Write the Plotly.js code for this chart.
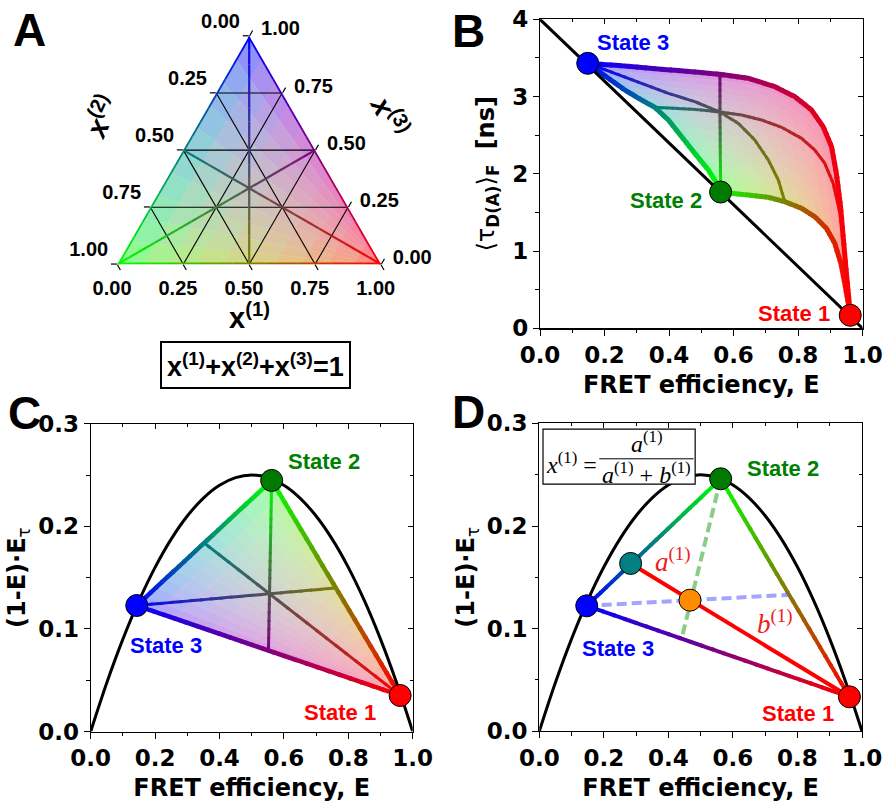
<!DOCTYPE html>
<html><head><meta charset="utf-8">
<script src="https://cdn.plot.ly/plotly-3.0.1.min.js"></script>
<style>html,body{margin:0;padding:0;background:#fff}</style>
</head><body>
<div id="chart" style="width:883px;height:809px"></div>
<script>
// ================= DATA =================
// Panel A: ternary tick values and their printed labels
const ternTicks    = [0, 0.25, 0.5, 0.75, 1];
const ternTickText = ['1.00', '0.75', '0.50', '0.25', '0.00'];
const ternGridVals = [0.25, 0.5, 0.75];

// Panel B: states (State 1, State 2, State 3)
const stateNames = ['State 1', 'State 2', 'State 3'];
const B_stateE = [0.962, 0.560, 0.148];
const B_stateT = [0.168, 1.764, 3.430];
// static FRET line
const B_staticE = [0, 1];
const B_staticT = [4, 0];
// dynamic lines (edges)
const B_edge31_E = [0.148, 0.263, 0.367, 0.470, 0.558, 0.646, 0.728, 0.790, 0.842, 0.878, 0.904, 0.919, 0.932, 0.941, 0.950, 0.958, 0.962];
const B_edge31_T = [3.430, 3.395, 3.357, 3.322, 3.288, 3.236, 3.128, 2.999, 2.826, 2.610, 2.351, 2.006, 1.574, 1.143, 0.712, 0.366, 0.168];
const B_edge32_E = [0.148, 0.212, 0.263, 0.315, 0.356, 0.398, 0.439, 0.480, 0.522, 0.548, 0.560];
const B_edge32_T = [3.430, 3.236, 3.085, 2.955, 2.860, 2.697, 2.481, 2.265, 2.049, 1.877, 1.764];
const B_edge21_E = [0.560, 0.594, 0.646, 0.708, 0.759, 0.811, 0.852, 0.888, 0.914, 0.933, 0.945, 0.956, 0.962];
const B_edge21_T = [1.764, 1.747, 1.725, 1.695, 1.639, 1.553, 1.445, 1.294, 1.100, 0.841, 0.582, 0.323, 0.168];
// interior lines through the centre
const B_medA_E = [0.356, 0.418, 0.491, 0.558, 0.625, 0.687, 0.749, 0.811, 0.852, 0.883, 0.909, 0.930, 0.943, 0.954, 0.962];
const B_medA_T = [2.860, 2.848, 2.830, 2.800, 2.761, 2.697, 2.602, 2.459, 2.308, 2.136, 1.877, 1.489, 1.057, 0.625, 0.168];
const B_medB_E = [0.148, 0.232, 0.315, 0.398, 0.480, 0.558, 0.615, 0.666, 0.708, 0.739, 0.759];
const B_medB_T = [3.430, 3.301, 3.171, 3.042, 2.934, 2.800, 2.653, 2.438, 2.179, 1.920, 1.639];
const B_medC_E = [0.560, 0.559, 0.558, 0.558];
const B_medC_T = [1.764, 2.308, 2.800, 3.288];

// Panel C: states
const C_stateE = [0.961, 0.562, 0.143];
const C_stateY = [0.0351, 0.2447, 0.1228];
// Panel D: states and extra points/lines
const D_stateE = [0.961, 0.562, 0.147];
const D_stateY = [0.0335, 0.2460, 0.1222];
const D_pointE = [0.283, 0.467];     // teal, orange
const D_pointY = [0.1635, 0.1277];
const D_dashGreenE = [0.562, 0.441];
const D_dashGreenY = [0.2460, 0.0901];
const D_dashBlueE = [0.147, 0.775];
const D_dashBlueY = [0.1222, 0.1330];
// static FRET line in (E, (1-E)E_tau) space
const parabolaE = [0, 0.05, 0.1, 0.15, 0.2, 0.25, 0.3, 0.35, 0.4, 0.45, 0.5, 0.55, 0.6, 0.65, 0.7, 0.75, 0.8, 0.85, 0.9, 0.95, 1.0];
const parabolaY = [0, 0.0475, 0.09, 0.1275, 0.16, 0.1875, 0.21, 0.2275, 0.24, 0.2475, 0.25, 0.2475, 0.24, 0.2275, 0.21, 0.1875, 0.16, 0.1275, 0.09, 0.0475, 0];

// ================= helpers =================
const W = 883, H = 809;
const px = v => v / W, py = v => 1 - v / H;
const COMP1 = [1,0,0], COMP2 = [0,1,0], COMP3 = [0,0,1];
const stateColors = ['#ff0000', '#007a00', '#0000ff'];
const labelColors = ['#ff0000', '#008000', '#0000ff'];
const mix = (c0, c1, t) => c0.map((v, i) => v + (c1[i] - v) * t);
const lerp2 = (p, q, t) => [p[0] + (q[0] - p[0]) * t, p[1] + (q[1] - p[1]) * t];
const rgb = c => `rgb(${c.map(v => Math.round(255 * Math.min(1, Math.max(0, v)))).join(',')})`;
const fillColor = (c, alpha) => `rgb(${c.map(v => Math.round(255 - alpha * (255 - 255 * Math.sqrt(Math.max(v, 0))))).join(',')})`;
const mid = (p, q) => [(p[0] + q[0]) / 2, (p[1] + q[1]) / 2];

const traces = [], shapes = [], annotations = [];

// gradient-coloured polyline as overlapping path shapes
function gradLine(xs, ys, c0, c1, width, xref, yref, byY, sub) {
  const p = byY ? ys : xs, p0 = p[0], p1 = p[p.length - 1];
  const P = [], tp = [];
  for (let i = 0; i < xs.length - 1; i++) {
    for (let k = 0; k < sub; k++) {
      const f = k / sub;
      P.push([xs[i] + f * (xs[i + 1] - xs[i]), ys[i] + f * (ys[i + 1] - ys[i])]);
      tp.push((p[i] + f * (p[i + 1] - p[i]) - p0) / (p1 - p0));
    }
  }
  P.push([xs[xs.length - 1], ys[ys.length - 1]]); tp.push(1);
  for (let j = 0; j < P.length; j++) {
    const a = j === 0 ? P[0] : lerp2(P[j], P[j - 1], 0.62);
    const b = j === P.length - 1 ? P[j] : lerp2(P[j], P[j + 1], 0.62);
    shapes.push({type: 'path', xref, yref, layer: 'below',
      path: `M${a[0]},${a[1]} L${P[j][0]},${P[j][1]} L${b[0]},${b[1]}`,
      fillcolor: 'rgba(0,0,0,0)', line: {color: rgb(mix(c0, c1, tp[j])), width}});
  }
}
// sample polyline at normalized E position
function sampleE(E, T, t) {
  const target = E[0] + t * (E[E.length - 1] - E[0]);
  for (let i = 0; i < E.length - 1; i++) {
    const a = E[i], b = E[i + 1];
    if ((target - a) * (target - b) <= 1e-12) {
      const f = b === a ? 0 : (target - a) / (b - a);
      return [a + f * (b - a), T[i] + f * (T[i + 1] - T[i])];
    }
  }
  return [E[E.length - 1], T[T.length - 1]];
}
// shaded mixing region built from its three boundary lines
function patch(e32, e31, e21, S1, S2, S3, n, alpha, xref, yref) {
  const pt = (u, v) => {
    const C0 = sampleE(e32[0], e32[1], u), D0 = sampleE(e31[0], e31[1], v), D1 = sampleE(e21[0], e21[1], v);
    return [0, 1].map(k => (1 - v) * (C0[k] - (1 - u) * S3[k] - u * S2[k]) + (1 - u) * D0[k] + u * D1[k]);
  };
  for (let i = 0; i < n; i++) for (let j = 0; j < n; j++) {
    const u0 = i / n, u1 = (i + 1) / n, v0 = j / n, v1 = (j + 1) / n;
    const q = [pt(u0, v0), pt(u1, v0), pt(u1, v1), pt(u0, v1)];
    const um = (u0 + u1) / 2, vm = (v0 + v1) / 2;
    const col = fillColor([vm, (1 - vm) * um, (1 - vm) * (1 - um)], alpha);
    shapes.push({type: 'path', xref, yref, layer: 'below',
      path: `M${q[0][0]},${q[0][1]} L${q[1][0]},${q[1][1]} L${q[2][0]},${q[2][1]} L${q[3][0]},${q[3][1]} Z`,
      fillcolor: col, line: {color: col, width: 0.6}});
  }
}

// ================= Panel A (ternary) =================
// a = x(3) (top, blue), b = x(2) (bottom-left, green), c = x(1) (bottom-right, red)
const NA = 10;
for (let i = 0; i < NA; i++) for (let j = 0; j < NA; j++) {
  const u0 = i / NA, u1 = (i + 1) / NA, v0 = j / NA, v1 = (j + 1) / NA;
  const comps = [[u0, v0], [u1, v0], [u1, v1], [u0, v1]].map(([u, v]) => [v, (1 - v) * u, (1 - v) * (1 - u)]);
  const um = (u0 + u1) / 2, vm = (v0 + v1) / 2;
  const col = fillColor([vm, (1 - vm) * um, (1 - vm) * (1 - um)], 0.55);
  traces.push({type: 'scatterternary', subplot: 'ternary', a: comps.map(c => c[2]), b: comps.map(c => c[1]), c: comps.map(c => c[0]),
    mode: 'lines', fill: 'toself', fillcolor: col, line: {color: col, width: 0.6}, hoverinfo: 'skip', showlegend: false});
}
ternGridVals.forEach(k => {
  const segs = [
    {a: [k, k], b: [1 - k, 0], c: [0, 1 - k]},
    {a: [1 - k, 0], b: [k, k], c: [0, 1 - k]},
    {a: [1 - k, 0], b: [0, 1 - k], c: [k, k]}];
  segs.forEach(s => traces.push({type: 'scatterternary', subplot: 'ternary', a: s.a, b: s.b, c: s.c, mode: 'lines',
    line: {color: '#000', width: 1.1}, hoverinfo: 'skip', showlegend: false}));
});
function ternLine(p0, p1, width, n) {  // p = [x1, x2, x3]
  for (let k = 0; k < n; k++) {
    const q0 = mix(p0, p1, k / n), q1 = mix(p0, p1, (k + 1) / n), qm = mix(p0, p1, (k + 0.5) / n);
    traces.push({type: 'scatterternary', subplot: 'ternary', a: [q0[2], q1[2]], b: [q0[1], q1[1]], c: [q0[0], q1[0]],
      mode: 'lines', line: {color: rgb(qm), width}, hoverinfo: 'skip', showlegend: false});
  }
}
ternLine(COMP1, [0, .5, .5], 2.2, 16);
ternLine(COMP2, [.5, 0, .5], 2.2, 16);
ternLine(COMP3, [.5, .5, 0], 2.2, 16);
ternLine(COMP3, COMP2, 3.5, 16);
ternLine(COMP3, COMP1, 3.5, 16);
ternLine(COMP2, COMP1, 3.5, 16);

// ================= Panel B =================
const S1B = [B_stateE[0], B_stateT[0]], S2B = [B_stateE[1], B_stateT[1]], S3B = [B_stateE[2], B_stateT[2]];
patch([B_edge32_E, B_edge32_T], [B_edge31_E, B_edge31_T], [B_edge21_E, B_edge21_T], S1B, S2B, S3B, 16, 0.45, 'x', 'y');
gradLine(B_medA_E, B_medA_T, [0, .5, .5], COMP1, 3, 'x', 'y', false, 4);
gradLine(B_medB_E, B_medB_T, COMP3, [.5, .5, 0], 3, 'x', 'y', false, 4);
gradLine(B_medC_E, B_medC_T, COMP2, [.5, 0, .5], 3, 'x', 'y', true, 6);
gradLine(B_edge32_E, B_edge32_T, COMP3, COMP2, 5, 'x', 'y', false, 4);
gradLine(B_edge21_E, B_edge21_T, COMP2, COMP1, 5, 'x', 'y', false, 4);
gradLine(B_edge31_E, B_edge31_T, COMP3, COMP1, 5, 'x', 'y', false, 4);
traces.push({type: 'scatter', x: B_staticE, y: B_staticT, xaxis: 'x', yaxis: 'y', mode: 'lines',
  line: {color: '#000', width: 3}, hoverinfo: 'skip', showlegend: false});
traces.push({type: 'scatter', x: B_stateE, y: B_stateT, xaxis: 'x', yaxis: 'y', mode: 'markers', text: stateNames,
  marker: {size: 22, color: stateColors, line: {color: '#000', width: 1}}, hoverinfo: 'skip', showlegend: false, cliponaxis: false});

// ================= Panel C =================
const S1C = [C_stateE[0], C_stateY[0]], S2C = [C_stateE[1], C_stateY[1]], S3C = [C_stateE[2], C_stateY[2]];
patch([[S3C[0], S2C[0]], [S3C[1], S2C[1]]], [[S3C[0], S1C[0]], [S3C[1], S1C[1]]], [[S2C[0], S1C[0]], [S2C[1], S1C[1]]], S1C, S2C, S3C, 14, 0.42, 'x2', 'y2');
const m32C = mid(S3C, S2C), m31C = mid(S3C, S1C), m21C = mid(S2C, S1C);
gradLine([m32C[0], S1C[0]], [m32C[1], S1C[1]], [0, .5, .5], COMP1, 3, 'x2', 'y2', false, 20);
gradLine([S3C[0], m21C[0]], [S3C[1], m21C[1]], COMP3, [.5, .5, 0], 3, 'x2', 'y2', false, 20);
gradLine([S2C[0], m31C[0]], [S2C[1], m31C[1]], COMP2, [.5, 0, .5], 3, 'x2', 'y2', true, 20);
gradLine([S3C[0], S2C[0]], [S3C[1], S2C[1]], COMP3, COMP2, 4.5, 'x2', 'y2', false, 24);
gradLine([S2C[0], S1C[0]], [S2C[1], S1C[1]], COMP2, COMP1, 4.5, 'x2', 'y2', false, 24);
gradLine([S3C[0], S1C[0]], [S3C[1], S1C[1]], COMP3, COMP1, 4.5, 'x2', 'y2', false, 24);
traces.push({type: 'scatter', x: parabolaE, y: parabolaY, xaxis: 'x2', yaxis: 'y2', mode: 'lines',
  line: {color: '#000', width: 3, shape: 'spline'}, hoverinfo: 'skip', showlegend: false});
traces.push({type: 'scatter', x: C_stateE, y: C_stateY, xaxis: 'x2', yaxis: 'y2', mode: 'markers', text: stateNames,
  marker: {size: 22, color: stateColors, line: {color: '#000', width: 1}}, hoverinfo: 'skip', showlegend: false, cliponaxis: false});

// ================= Panel D =================
const S1D = [D_stateE[0], D_stateY[0]], S2D = [D_stateE[1], D_stateY[1]], S3D = [D_stateE[2], D_stateY[2]];
gradLine([S3D[0], S2D[0]], [S3D[1], S2D[1]], COMP3, COMP2, 4, 'x3', 'y3', false, 24);
gradLine([S2D[0], S1D[0]], [S2D[1], S1D[1]], COMP2, COMP1, 4, 'x3', 'y3', false, 24);
gradLine([S3D[0], S1D[0]], [S3D[1], S1D[1]], COMP3, COMP1, 4, 'x3', 'y3', false, 24);
traces.push({type: 'scatter', x: parabolaE, y: parabolaY, xaxis: 'x3', yaxis: 'y3', mode: 'lines',
  line: {color: '#000', width: 3, shape: 'spline'}, hoverinfo: 'skip', showlegend: false});
traces.push({type: 'scatter', x: [D_pointE[0], D_stateE[0]], y: [D_pointY[0], D_stateY[0]], xaxis: 'x3', yaxis: 'y3', mode: 'lines',
  line: {color: '#ff0000', width: 4}, hoverinfo: 'skip', showlegend: false});
traces.push({type: 'scatter', x: D_dashGreenE, y: D_dashGreenY, xaxis: 'x3', yaxis: 'y3', mode: 'lines',
  line: {color: 'rgba(60,170,60,0.6)', width: 4, dash: '10px,5px'}, hoverinfo: 'skip', showlegend: false});
traces.push({type: 'scatter', x: D_dashBlueE, y: D_dashBlueY, xaxis: 'x3', yaxis: 'y3', mode: 'lines',
  line: {color: 'rgba(90,90,255,0.55)', width: 4, dash: '10px,5px'}, hoverinfo: 'skip', showlegend: false});
traces.push({type: 'scatter', x: D_stateE.concat(D_pointE), y: D_stateY.concat(D_pointY), xaxis: 'x3', yaxis: 'y3', mode: 'markers',
  marker: {size: 22, color: stateColors.concat(['#008080', '#ff8c00']), line: {color: '#000', width: 1}}, hoverinfo: 'skip', showlegend: false, cliponaxis: false});
// formula box
shapes.push({type: 'rect', xref: 'x3', yref: 'y3', x0: 0.0115, x1: 0.483, y0: 0.2408, y1: 0.2944, layer: 'above',
  fillcolor: '#fff', line: {color: '#000', width: 1.2}});
shapes.push({type: 'line', xref: 'x3', yref: 'y3', x0: 0.186, x1: 0.478, y0: 0.2655, y1: 0.2655, layer: 'above',
  line: {color: '#000', width: 1}});

// dummy traces so that mirror axes are drawn
[['x4', 'y'], ['x', 'y4'], ['x5', 'y2'], ['x2', 'y5'], ['x6', 'y3'], ['x3', 'y6']].forEach(([xa, ya]) =>
  traces.push({type: 'scatter', x: [null], y: [null], xaxis: xa, yaxis: ya, mode: 'markers', hoverinfo: 'skip', showlegend: false}));

// ================= Layout =================
const tickFont = {family: 'DejaVu Sans', size: 23, weight: 'bold', color: '#000'};
const titleFont = {family: 'DejaVu Sans', size: 24, color: '#000'};
function baseAxis(domain, anchor, range, dtick, minorD, fmt, title, standoff) {
  return {domain, anchor, range, dtick, tick0: 0, tickformat: fmt, ticks: 'outside', ticklen: 6, tickwidth: 1, tickcolor: '#000',
    showline: true, linecolor: '#000', linewidth: 1.2, mirror: true, showgrid: false, zeroline: false, tickfont: tickFont,
    minor: {dtick: minorD, ticks: 'outside', ticklen: 3.5, tickcolor: '#000', tickwidth: 1, showgrid: false},
    title: {text: title, font: titleFont, standoff}, fixedrange: true, automargin: false};
}
function mirrorAxis(over, side, anchor, range, dtick, minorD) {
  return {overlaying: over, side, anchor, range, dtick, tick0: 0, ticks: 'inside', ticklen: 5, tickwidth: 1, tickcolor: '#000',
    showticklabels: false, showline: false, showgrid: false, zeroline: false,
    minor: {dtick: minorD, ticks: 'inside', ticklen: 3, tickcolor: '#000', tickwidth: 1, showgrid: false}, fixedrange: true};
}
const domB = {x: [540 / W, 862.5 / W], y: [1 - 328.3 / H, 1 - 19.3 / H]};
const domC = {x: [90.7 / W, 412.7 / W], y: [1 - 731.5 / H, 1 - 423.7 / H]};
const domD = {x: [539.3 / W, 862 / W], y: [1 - 731.2 / H, 1 - 423.4 / H]};
const xTitle = '<b>FRET efficiency, E</b>';
const yTitleB = '⟨τ<sub><b>D(A)</b></sub>⟩<sub><b>F</b></sub>  <b>[ns]</b>';
const yTitleC = '<b>(1-E)·E</b><sub>τ</sub>';

// ternary tick labels: the printed labels sit along the reference's tick direction
const NB = '\u00a0';
const ternFont = {family: 'Liberation Sans', size: 20, weight: 'bold', color: '#000'};
function tAxis(textFn) {
  return {tickmode: 'array', tickvals: ternTicks, ticktext: ternTickText.map(textFn), ticks: 'outside', ticklen: 6, tickwidth: 1.2,
    tickcolor: '#000', showline: false, showgrid: false, tickfont: ternFont, title: {text: ''}, min: 0};
}

const stateFont = c => ({family: 'Liberation Sans', size: 22, weight: 'bold', color: c});
function ann(text, x, y, xref, yref, font, extra) {
  annotations.push(Object.assign({text, x, y, xref, yref, showarrow: false, font, xanchor: 'center', yanchor: 'middle'}, extra || {}));
}
const letterFont = {family: 'Liberation Sans', size: 46, weight: 'bold', color: '#000'};
ann('A', px(30), py(30), 'paper', 'paper', letterFont);
ann('B', px(469), py(31), 'paper', 'paper', letterFont);
ann('C', px(24), py(413), 'paper', 'paper', letterFont);
ann('D', px(468), py(412), 'paper', 'paper', letterFont);
const axTitleFont = {family: 'Liberation Sans', size: 29, weight: 'bold', color: '#000'};
ann('x<sup>(1)</sup>', px(249), py(316), 'paper', 'paper', axTitleFont);
ann('<i>x</i><sup>(2)</sup>', px(100), py(117), 'paper', 'paper', axTitleFont, {textangle: -66});
ann('<i>x</i><sup>(3)</sup>', px(390), py(115), 'paper', 'paper', axTitleFont, {textangle: 62});
ann('x<sup>(1)</sup>+x<sup>(2)</sup>+x<sup>(3)</sup>=1', px(255), py(365), 'paper', 'paper',
  {family: 'Liberation Sans', size: 27, weight: 'bold', color: '#000'}, {bordercolor: '#000', borderwidth: 2, borderpad: 5, bgcolor: '#fff'});
// state labels
ann('State 3', 0.287, 3.70, 'x', 'y', stateFont(labelColors[2]));
ann('State 2', 0.390, 1.66, 'x', 'y', stateFont(labelColors[1]));
ann('State 1', 0.787, 0.19, 'x', 'y', stateFont(labelColors[0]));
ann('State 2', 0.723, 0.263, 'x2', 'y2', stateFont(labelColors[1]));
ann('State 3', 0.233, 0.0835, 'x2', 'y2', stateFont(labelColors[2]));
ann('State 1', 0.774, 0.0185, 'x2', 'y2', stateFont(labelColors[0]));
ann('State 2', 0.756, 0.256, 'x3', 'y3', stateFont(labelColors[1]));
ann('State 3', 0.245, 0.0806, 'x3', 'y3', stateFont(labelColors[2]));
ann('State 1', 0.803, 0.0172, 'x3', 'y3', stateFont(labelColors[0]));
// segment labels and formula
const serifRed = {family: 'Liberation Serif', size: 27, color: '#ee2020'};
ann('<i>a</i><sup>(1)</sup>', 0.415, 0.1667, 'x3', 'y3', serifRed);
ann('<i>b</i><sup>(1)</sup>', 0.730, 0.1066, 'x3', 'y3', serifRed);
const serif = {family: 'Liberation Serif', size: 24, color: '#000'};
ann('<i>x</i><sup>(1)</sup> =', 0.100, 0.2610, 'x3', 'y3', serif);
ann('<i>a</i><sup>(1)</sup>', 0.334, 0.2815, 'x3', 'y3', serif);
ann('<i>a</i><sup>(1)</sup> + <i>b</i><sup>(1)</sup>', 0.332, 0.2512, 'x3', 'y3', serif);

const layout = {
  width: W, height: H, margin: {l: 0, r: 0, t: 0, b: 0}, paper_bgcolor: '#fff', plot_bgcolor: 'rgba(0,0,0,0)',
  font: {family: 'DejaVu Sans', color: '#000'}, showlegend: false,
  ternary: {domain: {x: [116.7 / W, 381.7 / W], y: [1 - 264.3 / H, 1 - 36 / H]}, sum: 1, bgcolor: 'rgba(0,0,0,0)',
    aaxis: tAxis(t => t + '<br>' + NB),
    baxis: tAxis(t => t + NB + NB + NB),
    caxis: tAxis(t => NB + t)},
  xaxis: baseAxis(domB.x, 'y', [0, 1], 0.2, 0.1, '.1f', xTitle, 9),
  yaxis: baseAxis(domB.y, 'x', [0, 4], 1, 0.5, 'd', yTitleB, 10),
  xaxis2: baseAxis(domC.x, 'y2', [0, 1], 0.2, 0.1, '.1f', xTitle, 9),
  yaxis2: baseAxis(domC.y, 'x2', [0, 0.3], 0.1, 0.05, '.1f', yTitleC, 5),
  xaxis3: baseAxis(domD.x, 'y3', [0, 1], 0.2, 0.1, '.1f', xTitle, 9),
  yaxis3: baseAxis(domD.y, 'x3', [0, 0.3], 0.1, 0.05, '.1f', yTitleC, 5),
  xaxis4: mirrorAxis('x', 'top', 'y', [0, 1], 0.2, 0.1),
  yaxis4: mirrorAxis('y', 'right', 'x', [0, 4], 1, 0.5),
  xaxis5: mirrorAxis('x2', 'top', 'y2', [0, 1], 0.2, 0.1),
  yaxis5: mirrorAxis('y2', 'right', 'x2', [0, 0.3], 0.1, 0.05),
  xaxis6: mirrorAxis('x3', 'top', 'y3', [0, 1], 0.2, 0.1),
  yaxis6: mirrorAxis('y3', 'right', 'x3', [0, 0.3], 0.1, 0.05),
  shapes, annotations
};
Plotly.newPlot('chart', traces, layout, {staticPlot: true, displayModeBar: false});
</script>
</body></html>
